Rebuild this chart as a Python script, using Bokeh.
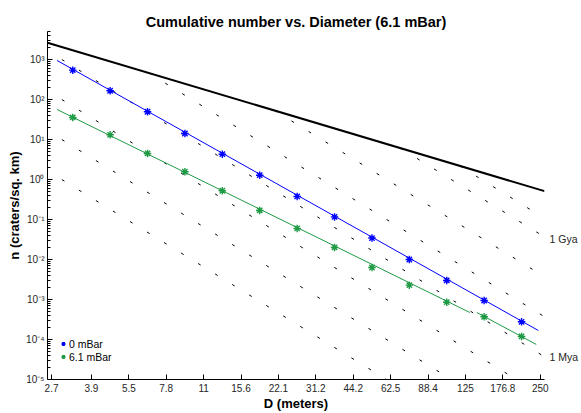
import math
from bokeh.plotting import figure
from bokeh.models import (Range1d, FixedTicker, CustomJSTickFormatter, Legend,
                          LegendItem, LogAxis)
from bokeh.embed import file_html
from bokeh.resources import INLINE

# ---------------- data ----------------
title_text = "Cumulative number vs. Diameter (6.1 mBar)"
x_label = "D (meters)"
y_label = "n (craters/sq. km)"

# bin centres (m)
D_bins = [3.285, 4.645, 6.57, 9.29, 13.14, 18.58, 26.28, 37.16, 52.56, 74.3, 105.1, 148.6, 210.2]
n_0mbar = [540, 165, 49.3, 14.1, 4.29, 1.28, 0.376, 0.116, 0.0343, 0.0100, 0.00299, 0.000944, 0.000277]
n_61mbar = [35.5, 13.1, 4.47, 1.56, 0.522, 0.168, 0.0596, 0.0200, 0.00631, 0.00228, 0.000856, 0.000369, 0.000119]

# fitted lines
fit0_D = [2.84, 245.6]
fit0_n = [944, 1.68e-4]
fit61a_D = [2.84, 130.2]
fit61a_n = [56.2, 4.73e-4]
fit61b_D = [138.8, 241.0]
fit61b_n = [4.73e-4, 7.5e-5]

# saturation line
sat_D = [2.6, 260]
sat_n = [2620, 0.511]

# isochrons
iso_names = ["1 kya", "10 kya", "100 kya", "1 Mya", "10 Mya", "100 Mya", "1 Gya", "3 Gya"]
iso_D_start = [2.97, 2.97, 2.97, 2.97, 6.61, 21.3, 68.2, 117.8]
iso_n_start = [0.994, 9.94, 99.4, 994, 468, 53.2, 6.13, 2.22]
iso_D_end = [257, 257, 257, 257, 257, 257, 257, 257]
iso_n_end = [3.87e-8, 3.87e-7, 3.87e-6, 3.87e-5, 3.87e-4, 3.87e-3, 0.0382, 0.112]

iso_label_names = ["1 Gya", "1 Mya"]
iso_label_n = [0.0324, 3.69e-5]

# axis ticks
x_tick_vals = [2.7, 3.906, 5.524, 7.812, 11.05, 15.62, 22.1, 31.25, 44.19, 62.5, 88.39, 125, 176.8, 250]
x_tick_labels = ["2.7", "3.9", "5.5", "7.8", "11", "15.6", "22.1", "31.2", "44.2", "62.5", "88.4", "125", "176.8", "250"]
y_major = [1e-5, 1e-4, 1e-3, 1e-2, 1e-1, 1, 10, 100, 1000]
y_minor = [m * 10.0 ** e for e in range(-5, 4) for m in range(2, 10) if m * 10.0 ** e <= 5000]

x_lim = (2.6, 260)
y_lim = (1e-5, 5000)

BLUE = "#0000ff"
GREEN = "#1f9a44"
FONT = "Liberation Sans"
TICK_COLOR = "#262626"

# ---------------- figure ----------------
p = figure(width=581, height=413, x_axis_type="log", y_axis_type="log",
           x_range=Range1d(*x_lim), y_range=Range1d(*y_lim),
           output_backend="svg", toolbar_location=None,
           min_border_left=47, min_border_right=34, min_border_top=31, min_border_bottom=33)

p.title.text = title_text
p.title.align = "center"
p.title.text_font = FONT
p.title.text_font_size = "14.5px"
p.title.text_font_style = "bold"
p.title.text_color = "black"
p.title.standoff = 3

p.outline_line_color = None
p.grid.visible = False
p.background_fill_color = "white"
p.border_fill_color = "white"

# x axis
p.xaxis.ticker = FixedTicker(ticks=x_tick_vals, minor_ticks=[])
p.xaxis.formatter = CustomJSTickFormatter(args=dict(vals=x_tick_vals, labs=x_tick_labels), code="""
let best = 0, bd = 1e9;
for (let i = 0; i < vals.length; i++) {
  const d = Math.abs(Math.log(tick) - Math.log(vals[i]));
  if (d < bd) { bd = d; best = i; }
}
return labs[best];
""")
p.xaxis.major_tick_in = 5
p.xaxis.major_tick_out = 0
p.xaxis.minor_tick_in = 0
p.xaxis.minor_tick_out = 0
p.xaxis.major_label_standoff = 4
p.xaxis.axis_label = x_label
p.xaxis.axis_label_standoff = 1

# y axis
p.yaxis.ticker = FixedTicker(ticks=y_major, minor_ticks=y_minor)
p.yaxis.formatter = CustomJSTickFormatter(code="""
const sup = {"-":"\u207b","0":"\u2070","1":"\u00b9","2":"\u00b2","3":"\u00b3","4":"\u2074","5":"\u2075","6":"\u2076","7":"\u2077","8":"\u2078","9":"\u2079"};
const e = Math.round(Math.log10(tick));
return "10" + String(e).split("").map(c => sup[c]).join("");
""")
p.yaxis.major_tick_in = 5
p.yaxis.major_tick_out = 0
p.yaxis.minor_tick_in = 3
p.yaxis.minor_tick_out = 0
p.yaxis.major_label_standoff = 3
p.yaxis.axis_label = y_label
p.yaxis.axis_label_standoff = 1

for ax in (p.xaxis, p.yaxis):
    ax.axis_line_color = "black"
    ax.major_tick_line_color = "black"
    ax.minor_tick_line_color = "black"
    ax.major_label_text_font = FONT
    ax.major_label_text_font_size = "10px"
    ax.major_label_text_color = TICK_COLOR
    ax.axis_label_text_font = FONT
    ax.axis_label_text_font_size = "13px"
    ax.axis_label_text_font_style = "bold"
    ax.axis_label_text_color = "black"

# right-hand isochron labels
right_ax = LogAxis(ticker=FixedTicker(ticks=iso_label_n, minor_ticks=[]),
                   formatter=CustomJSTickFormatter(args=dict(vals=iso_label_n, labs=iso_label_names), code="""
let best = 0, bd = 1e9;
for (let i = 0; i < vals.length; i++) {
  const d = Math.abs(Math.log(tick) - Math.log(vals[i]));
  if (d < bd) { bd = d; best = i; }
}
return labs[best];
"""))
right_ax.axis_line_color = None
right_ax.major_tick_line_color = None
right_ax.minor_tick_line_color = None
right_ax.major_tick_in = 0
right_ax.major_tick_out = 0
right_ax.major_label_standoff = 5
right_ax.major_label_text_font = FONT
right_ax.major_label_text_font_size = "10.5px"
right_ax.major_label_text_color = TICK_COLOR
p.add_layout(right_ax, "right")

# ---------------- glyphs ----------------
p.multi_line(xs=[[a, b] for a, b in zip(iso_D_start, iso_D_end)],
             ys=[[a, b] for a, b in zip(iso_n_start, iso_n_end)],
             line_color="black", line_width=1, line_dash="3 17")

p.line(sat_D, sat_n, line_color="black", line_width=2)

p.line(fit0_D, fit0_n, line_color=BLUE, line_width=1)
p.line(fit61a_D, fit61a_n, line_color=GREEN, line_width=1)
p.line(fit61b_D, fit61b_n, line_color=GREEN, line_width=1)

r0 = p.scatter(D_bins, n_0mbar, marker="asterisk", size=7.5, line_color=BLUE, line_width=1.4)
r61 = p.scatter(D_bins, n_61mbar, marker="asterisk", size=7.5, line_color=GREEN, line_width=1.4)

legend = Legend(items=[LegendItem(label="0 mBar", renderers=[r0]),
                       LegendItem(label="6.1 mBar", renderers=[r61])],
                location=(11, 16), border_line_color=None, background_fill_alpha=0,
                glyph_width=10, glyph_height=13, label_height=13, label_standoff=1,
                spacing=0, padding=0, margin=0,
                label_text_font=FONT, label_text_font_size="10.5px", label_text_color="black")
p.add_layout(legend)

open("out.html", "w").write(file_html(p, INLINE))
